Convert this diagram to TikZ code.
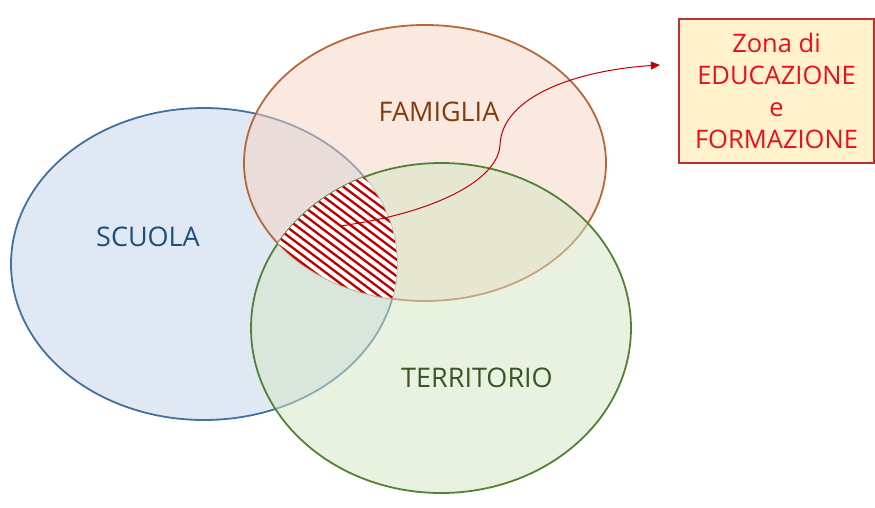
\documentclass[tikz,border=0pt]{standalone}
\usepackage{fontspec}
\setmainfont{Open Sans}
\usepackage{tikz}
\usetikzlibrary{shapes.geometric,arrows.meta,positioning}
\definecolor{sline}{HTML}{41719C}
\definecolor{sfill}{HTML}{C1D1E7}
\definecolor{stext}{HTML}{1F4E79}
\definecolor{fline}{HTML}{B5693A}
\definecolor{ffill}{HTML}{F5D3C1}
\definecolor{ftext}{HTML}{843C0C}
\definecolor{tline}{HTML}{548235}
\definecolor{tfill}{HTML}{D3E5C3}
\definecolor{ttext}{HTML}{385723}
\definecolor{hred}{HTML}{C00000}
\definecolor{zfill}{HTML}{FFF2CC}
\definecolor{zline}{HTML}{B83232}
\definecolor{ztext}{HTML}{E8101A}

\begin{document}
\begin{tikzpicture}[x=1pt, y=-1pt,
  venn/.style={ellipse, draw, line width=1.8pt, fill opacity=0.5, inner sep=0pt},
  lbl/.style={font=\fontsize{27}{32}\selectfont},
  zona/.style={draw=zline, fill=zfill, line width=1.5pt, text=ztext, align=center,
    minimum width=195pt, minimum height=144pt, font=\fontsize{25.5}{32}\selectfont},
  hatch/.style={draw=hred, line width=2.3pt},
  arr/.style={-{Triangle[length=9pt, width=8pt]}, draw=hred, line width=1pt}]
\useasboundingbox (0,0) rectangle (875,508);
% the three sets
\node[venn, draw=sline, fill=sfill, minimum width=386pt, minimum height=312pt] (scuola) at (204,264) {};
\node[venn, draw=fline, fill=ffill, minimum width=362pt, minimum height=276pt] (famiglia) at (425,163) {};
\node[venn, draw=tline, fill=tfill, minimum width=380pt, minimum height=330pt] (territorio) at (441,328) {};
\node[lbl, text=stext] (scuolatxt) at (148,237) {SCUOLA};
\node[lbl, text=ftext] (famigliatxt) at (439,112) {FAMIGLIA};
\node[lbl, text=ttext] (territoriotxt) at (477,378) {TERRITORIO};
% common zone, hatched
\begin{scope}
  \clip (scuola.center) ellipse [x radius=193pt, y radius=156pt];
  \clip (famiglia.center) ellipse [x radius=181pt, y radius=138pt];
  \clip (territorio.center) ellipse [x radius=190pt, y radius=165pt];
  \fill[white] (270,160) rectangle (400,305);
  \foreach \x in {50,61,...,410}
    \draw[hatch] (\x,140) -- ++(220,165);
\end{scope}
% label box and arrow
\node[zona] (zona) at (776.5,91) {Zona di\\EDUCAZIONE\\e\\FORMAZIONE};
\coordinate (hatchpt) at (340,226);
\coordinate (zonatip) at (660,65);
\draw[arr] (hatchpt) .. controls (435,213) and (498,180) .. (500,145)
  .. controls (502,95) and (580,70) .. (zonatip);
\end{tikzpicture}
\end{document}
